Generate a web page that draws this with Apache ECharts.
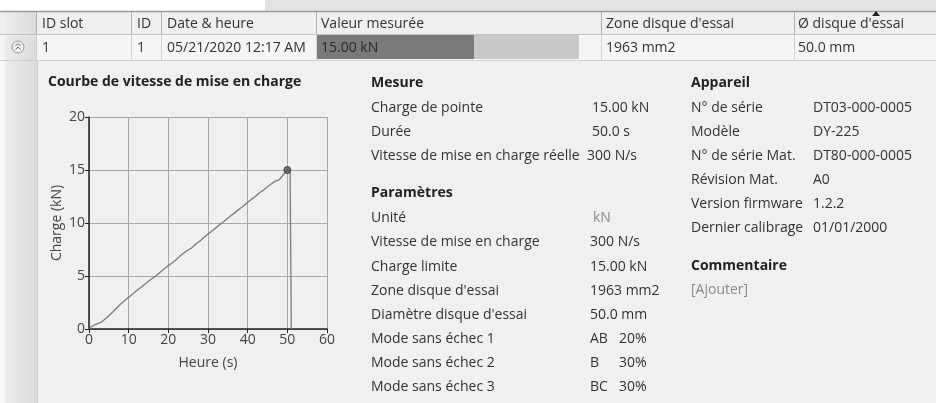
<!DOCTYPE html>
<html><head><meta charset="utf-8">
<script src="https://cdn.jsdelivr.net/npm/echarts@6/dist/echarts.min.js"></script>
<style>html,body{margin:0;padding:0;background:#f0f0f0}#c{width:936px;height:403px}</style>
</head><body><div id="c"></div>
<script>
// ---- data ----
var timeS = [0,0.5,1,1.5,2,3,4,5,6,7,8,9,10,11,12,13,14,15,16,17,18,19,20,21,22,23,24,25,26,27,28,29,30,31,32,33,34,35,36,37,38,39,40,41,42,43,44,45,46,47,48,49,50,50.7,51];
var chargeKN = [0,0.2,0.3,0.42,0.48,0.62,0.92,1.25,1.6,2.0,2.35,2.68,3.0,3.3,3.62,3.9,4.2,4.5,4.78,5.05,5.38,5.68,5.98,6.25,6.55,6.9,7.2,7.45,7.68,8.05,8.3,8.65,8.95,9.25,9.55,9.85,10.15,10.45,10.75,11.05,11.35,11.62,11.95,12.25,12.52,12.85,13.12,13.42,13.7,13.95,14.1,14.55,15.0,14.8,0];
var peakTime = [50];
var peakCharge = [15];
var xTicks = [0,10,20,30,40,50,60];
var yTicks = [0,5,10,15,20];
var headerLabels = ["ID slot","ID","Date & heure","Valeur mesurée","Zone disque d'essai","Ø disque d'essai"];
var rowValues = ["1","1","05/21/2020 12:17 AM","15.00 kN","1963 mm2","50.0 mm"];
var chartTitle = "Courbe de vitesse de mise en charge";
var mesureTitle = "Mesure";
var mesureLabels = ["Charge de pointe","Durée","Vitesse de mise en charge réelle"];
var mesureValues = ["15.00 kN","50.0 s","300 N/s"];
var paramTitle = "Paramètres";
var paramLabels = ["Unité","Vitesse de mise en charge","Charge limite","Zone disque d'essai","Diamètre disque d'essai","Mode sans échec 1","Mode sans échec 2","Mode sans échec 3"];
var paramValues = ["kN","300 N/s","15.00 kN","1963 mm2","50.0 mm","AB","B","BC"];
var paramPct = ["","","","","","20%","30%","30%"];
var appTitle = "Appareil";
var appLabels = ["N° de série","Modèle","N° de série Mat.","Révision Mat.","Version firmware","Dernier calibrage"];
var appValues = ["DT03-000-0005","DY-225","DT80-000-0005","A0","1.2.2","01/01/2000"];
var commentTitle = "Commentaire";
var commentValue = "[Ajouter]";

// ---- build ----
var FF = "'Open Sans', 'Noto Sans', sans-serif";
var FS = 14;
var TC = '#333';
function txt(x, y, s, opt) {
  opt = opt || {};
  return {type:'text', x:x, y:y, z:10, style:{text:s, fill:opt.color||TC, font:(opt.bold?'bold ':'')+(opt.size||FS)+'px '+FF, textAlign:opt.align||'left', textVerticalAlign:'middle'}};
}
function rect(x,y,w,h,fill,z){return {type:'rect',shape:{x:x,y:y,width:w,height:h},style:{fill:fill},z:z||1,silent:true};}
function line(x1,y1,x2,y2,c,w){return {type:'line',shape:{x1:x1,y1:y1,x2:x2,y2:y2},style:{stroke:c,lineWidth:w||1},z:5,silent:true};}

var g = [];
// top strip
g.push(rect(0,0,265,12,'#ffffff'));
g.push(rect(265,0,671,12,'#e3e3e3'));
// header row + data row
g.push(rect(0,12,936,22,'#efefef'));
g.push(rect(0,34,936,26,'#f5f5f5'));
// left stripe
g.push({type:'rect',shape:{x:5,y:12,width:32,height:391},style:{fill:new echarts.graphic.LinearGradient(0,0,1,0,[{offset:0,color:'#ececec'},{offset:1,color:'#dcdcdc'}])},z:2,silent:true});
g.push(rect(0,60,5,343,'#f7f7f7',2));
g.push(line(37.5,60,37.5,403,'#cfcfcf',1));
// borders
g.push(line(0,11.5,936,11.5,'#9a9a9a',1.5));
g.push(line(0,34.5,936,34.5,'#c4c4c4',1));
g.push(line(0,60.5,936,60.5,'#cfcfcf',1));
var colX = [36.5,131.5,161.5,316.5,601.5,794.5];
colX.forEach(function(x){ g.push(line(x,12,x,34,'#b0b0b0',1)); g.push(line(x,35,x,60,'#d2d2d2',1)); });
// value bar
g.push(rect(317,35,157,24,'#7a7a7a',3));
g.push(rect(474,35,105,24,'#c9c9c9',3));
// header labels
var hx = [42,137,167,321,606,798];
headerLabels.forEach(function(s,i){ g.push(txt(hx[i],24,s)); });
rowValues.forEach(function(s,i){ g.push(txt(hx[i],48,s,{color: i===3?'#2a2a2a':TC})); });
// sort arrow
g.push({type:'polygon',shape:{points:[[872,16],[880,16],[876,11]]},style:{fill:'#222'},z:10});
// expand icon
g.push({type:'circle',shape:{cx:18,cy:47,r:6},style:{fill:'#eeeeee',stroke:'#9a9a9a',lineWidth:1},z:6});
g.push({type:'polyline',shape:{points:[[15.5,46],[18,43.5],[20.5,46]]},style:{stroke:'#666',lineWidth:1,fill:null},z:7});
g.push({type:'polyline',shape:{points:[[15.5,49.5],[18,47],[20.5,49.5]]},style:{stroke:'#666',lineWidth:1,fill:null},z:7});
// chart title
g.push(txt(48,82,chartTitle,{bold:true,size:14,color:'#222'}));
// Mesure block
var rowY = [83.3,107.7,131.7,156,193.3,217.7,242.5,266.7,290.7,315,339.3,363.3,387.3];
g.push(txt(371,rowY[0],mesureTitle,{bold:true,size:14,color:'#222'}));
mesureLabels.forEach(function(s,i){ g.push(txt(371,rowY[1+i],s)); g.push(txt(i===2?587:592,rowY[1+i],mesureValues[i])); });
g.push(txt(371,rowY[4],paramTitle,{bold:true,size:14,color:'#222'}));
paramLabels.forEach(function(s,i){
  g.push(txt(371,rowY[5+i],s));
  g.push(txt(i===0?593:590,rowY[5+i],paramValues[i],{color:i===0?'#8a8a8a':TC}));
  if (paramPct[i]) g.push(txt(619,rowY[5+i],paramPct[i]));
});
// Appareil block
var appY = [83.3,107.7,131.7,156,180,204,228.3,266,290];
g.push(txt(691,appY[0],appTitle,{bold:true,size:14,color:'#222'}));
appLabels.forEach(function(s,i){ g.push(txt(691,appY[1+i],s)); g.push(txt(813,appY[1+i],appValues[i])); });
g.push(txt(691,appY[7],commentTitle,{bold:true,size:14,color:'#222'}));
g.push(txt(691,appY[8],commentValue,{color:'#8a8a8a'}));

var chart = echarts.init(document.getElementById('c'), null, {renderer:'canvas'});
chart.setOption({
  animation:false,
  backgroundColor:'#f0f0f0',
  textStyle:{fontFamily:FF},
  grid:{left:89,right:609,top:117,bottom:74,containLabel:false},
  xAxis:{type:'value',min:xTicks[0],max:xTicks[xTicks.length-1],interval:10,
    name:'Heure (s)',nameLocation:'middle',nameGap:27,nameTextStyle:{color:'#444',fontSize:14,fontFamily:FF},
    axisLine:{show:true,onZero:false,lineStyle:{color:'#222',width:1.5}},
    axisTick:{show:true,length:4,lineStyle:{color:'#222'}},
    axisLabel:{color:'#444',fontSize:14,margin:4,fontFamily:FF},
    splitLine:{show:true,lineStyle:{color:'#a8a8a8',width:1}}},
  yAxis:{type:'value',min:yTicks[0],max:yTicks[yTicks.length-1],interval:5,
    name:'Charge (kN)',nameLocation:'middle',nameGap:25,nameTextStyle:{color:'#444',fontSize:14,fontFamily:FF},
    axisLine:{show:true,lineStyle:{color:'#222',width:1.5}},
    axisTick:{show:true,length:4,lineStyle:{color:'#222'}},
    axisLabel:{color:'#444',fontSize:14,margin:4,fontFamily:FF},
    splitLine:{show:true,lineStyle:{color:'#a8a8a8',width:1}}},
  series:[
    {type:'line',data:timeS.map(function(t,i){return [t,chargeKN[i]];}),showSymbol:false,symbol:'none',
     lineStyle:{color:'#7a7a7a',width:1.3},z:3},
    {type:'scatter',data:peakTime.map(function(t,i){return [t,peakCharge[i]];}),symbolSize:7,
     itemStyle:{color:'#555',borderColor:'#333',borderWidth:1},z:4}
  ],
  graphic:g
});
</script></body></html>
